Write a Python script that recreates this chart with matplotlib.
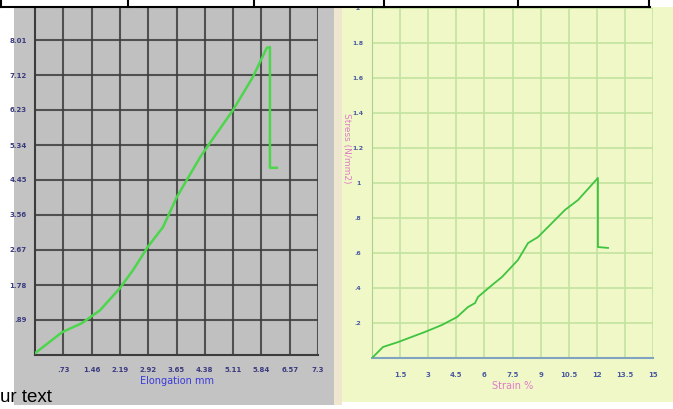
import matplotlib
matplotlib.use("Agg")
import matplotlib.pyplot as plt
from matplotlib.patches import Rectangle
from matplotlib.lines import Line2D

W, H = 673, 409

# left panel: load vs elongation
elong = [0.02, 0.70, 1.21, 1.68, 2.19, 2.53, 2.91, 3.30, 3.66, 4.26, 4.44, 5.11, 5.62, 5.98, 6.06, 6.06, 6.24]
load = [0.06, 0.58, 0.81, 1.14, 1.70, 2.16, 2.75, 3.25, 4.02, 5.03, 5.29, 6.23, 7.07, 7.81, 7.83, 4.76, 4.76]
left_xticks = [0.73, 1.46, 2.19, 2.92, 3.65, 4.38, 5.11, 5.84, 6.57, 7.3]
left_xlabels = ['.73', '1.46', '2.19', '2.92', '3.65', '4.38', '5.11', '5.84', '6.57', '7.3']
left_yticks = [0.89, 1.78, 2.67, 3.56, 4.45, 5.34, 6.23, 7.12, 8.01, 8.9]
left_ylabels = ['.89', '1.78', '2.67', '3.56', '4.45', '5.34', '6.23', '7.12', '8.01', '8.9']

# right panel: stress vs strain
strain = [0, 0.59, 1.39, 2.83, 3.74, 4.54, 5.12, 5.50, 5.66, 6.41, 6.94, 7.79, 8.33, 8.86, 9.40, 10.30, 11.0, 12.06, 12.06, 12.6]
stress = [0, 0.063, 0.091, 0.149, 0.189, 0.234, 0.291, 0.314, 0.349, 0.417, 0.463, 0.56, 0.657, 0.691, 0.749, 0.846, 0.903, 1.029, 0.634, 0.629]
right_xticks = [1.5, 3, 4.5, 6, 7.5, 9, 10.5, 12, 13.5, 15]
right_xlabels = ['1.5', '3', '4.5', '6', '7.5', '9', '10.5', '12', '13.5', '15']
right_yticks = [0.2, 0.4, 0.6, 0.8, 1.0, 1.2, 1.4, 1.6, 1.8, 2.0]
right_ylabels = ['.2', '.4', '.6', '.8', '1', '1.2', '1.4', '1.6', '1.8', '2']


def box(x0, y0, x1, y1):
    # pixel box (top-left origin) -> figure fraction rect
    return [x0 / W, 1 - y1 / H, (x1 - x0) / W, (y1 - y0) / H]


fig = plt.figure(figsize=(W / 100, H / 100), dpi=100)
fig.patch.set_facecolor('white')

# panel backgrounds
for (x0, y0, x1, y1, c) in [(14, 7, 334, 405, '#c3c3c3'),
                            (334, 7, 342, 405, '#efe6cf'),
                            (342, 7, 673, 402, '#f0f8c8')]:
    r = box(x0, y0, x1, y1)
    fig.add_artist(Rectangle((r[0], r[1]), r[2], r[3], transform=fig.transFigure,
                             facecolor=c, edgecolor='none', zorder=0))

tick_font = dict(fontsize=5, fontweight='bold', family='DejaVu Sans')

# left chart
ax1 = fig.add_axes(box(35, 5, 318, 355))
ax1.set_facecolor('#c0c0c0')
ax1.plot(elong, load, color='#4cd64c', lw=1.8, zorder=3)
ax1.set_xlim(0, 7.3)
ax1.set_ylim(0, 8.9)
ax1.set_xticks(left_xticks)
ax1.set_xticklabels(left_xlabels, color='#3b3b80', **tick_font)
ax1.set_yticks(left_yticks)
ax1.set_yticklabels(left_ylabels, color='#3b3b80', **tick_font)
ax1.tick_params(length=0, pad=9)
ax1.tick_params(axis='y', pad=6)
ax1.grid(True, color='#3c3c3c', lw=1.5, alpha=0.85)
for s in ax1.spines.values():
    s.set_color('#3c3c3c')
    s.set_linewidth(1.5)
ax1.spines['top'].set_visible(False)
ax1.spines['right'].set_visible(False)
ax1.set_xlabel('Elongation mm', color='#3a3adc', fontsize=7, labelpad=2)

# right chart
ax2 = fig.add_axes(box(372, 8, 653, 358))
ax2.set_facecolor('#f0f8c8')
ax2.plot(strain, stress, color='#3ec43e', lw=1.3, zorder=3)
ax2.set_xlim(0, 15)
ax2.set_ylim(0, 2.0)
ax2.set_xticks(right_xticks)
ax2.set_xticklabels(right_xlabels, color='#4a5aa0', **tick_font)
ax2.set_yticks(right_yticks)
ax2.set_yticklabels(right_ylabels, color='#4a5aa0', fontsize=4.5, fontweight='bold')
for lab in ax2.get_yticklabels():
    lab.set_horizontalalignment('center')
ax2.tick_params(length=0, pad=10)
ax2.tick_params(axis='y', pad=10)
ax2.grid(True, color='#c3e3a0', lw=1.2)
ax2.spines['top'].set_visible(False)
ax2.spines['right'].set_visible(False)
ax2.spines['left'].set_color('#a5d48a')
ax2.spines['bottom'].set_color('#7fa3c0')
ax2.spines['bottom'].set_linewidth(1.5)
ax2.set_xlabel('Strain %', color='#e27ac8', fontsize=7, labelpad=2)
fig.text(347 / W, 1 - 148 / H, 'Stress (N/mm2)', color='#e27ac8', fontsize=6.5,
         rotation=270, ha='center', va='center')

# table strip along the top
r = box(0, 0, 673, 7)
fig.add_artist(Rectangle((r[0], r[1]), r[2], r[3], transform=fig.transFigure,
                         facecolor='white', edgecolor='none', zorder=5))
fig.add_artist(Line2D([0, 650 / W], [1 - 7 / H, 1 - 7 / H], transform=fig.transFigure,
                      color='black', lw=1.5, zorder=6))
for x in [1, 128, 254, 384, 518, 649]:
    fig.add_artist(Line2D([x / W, x / W], [1, 1 - 7 / H], transform=fig.transFigure,
                          color='black', lw=1.5, zorder=6))

# stray caption fragment at bottom left
fig.text(0, 1 - 397 / H, 'ur text', color='black', fontsize=13.5,
         family='Liberation Sans', ha='left', va='center', zorder=6)

fig.savefig('out.png', dpi=100)
